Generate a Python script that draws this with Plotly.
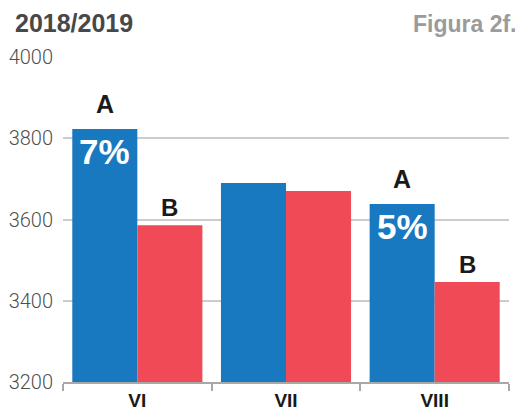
import plotly.graph_objects as go

categories = ["VI", "VII", "VIII"]
series_a = [3823, 3690, 3638]
series_b = [3586, 3670, 3446]
pct_labels = ["7%", "", "5%"]
a_labels = ["A", "", "A"]
b_labels = ["B", "", "B"]
y_ticks = [3200, 3400, 3600, 3800, 4000]

BLUE = "#1878c0"
RED = "#ef4a55"
FONT = "Liberation Sans, Arial, sans-serif"
LIGHT_FONT = "Roboto, Liberation Sans, Arial, sans-serif"

W, H = 520, 404
ML, MR, MT, MB = 55, 19, 49, 30
PW, PH = W - ML - MR, H - MT - MB

fig = go.Figure()
fig.add_trace(go.Bar(x=categories, y=series_a, marker_color=BLUE, marker_line_width=0, name="A"))
fig.add_trace(go.Bar(x=categories, y=series_b, marker_color=RED, marker_line_width=0, name="B"))

for i, c in enumerate(categories):
    if a_labels[i]:
        fig.add_annotation(x=c, y=series_a[i], xref="x", yref="y", text=a_labels[i],
                           showarrow=False, xshift=-32.5, yshift=9, yanchor="bottom",
                           font=dict(family=FONT, size=25, color="#1a1a1a", weight="bold"))
    if pct_labels[i]:
        fig.add_annotation(x=c, y=series_a[i], xref="x", yref="y", text=pct_labels[i],
                           showarrow=False, xshift=-32.5, yshift=-1, yanchor="top",
                           font=dict(family=FONT, size=35, color="white", weight="bold"))
    if b_labels[i]:
        fig.add_annotation(x=c, y=series_b[i], xref="x", yref="y", text=b_labels[i],
                           showarrow=False, xshift=32.5, yshift=2, yanchor="bottom",
                           font=dict(family=FONT, size=24, color="#1a1a1a", weight="bold"))

fig.add_annotation(x=(6 - ML) / PW, y=1 + (MT - 0.5) / PH, xref="paper", yref="paper",
                   text="2018/2019", showarrow=False, xanchor="left", yanchor="top",
                   borderpad=0,
                   font=dict(family=FONT, size=25, color="#484848", weight="bold"))
fig.add_annotation(x=1 + 9 / PW, y=1 + (MT - 16) / PH, xref="paper", yref="paper",
                   text="Figura 2f.", showarrow=False, xanchor="right", yanchor="middle",
                   borderpad=0,
                   font=dict(family=FONT, size=23, color="#9b9b9b", weight="bold"))

fig.update_layout(
    width=W, height=H,
    margin=dict(l=ML, r=MR, t=MT, b=MB, autoexpand=False),
    paper_bgcolor="white", plot_bgcolor="white",
    showlegend=False,
    barmode="group", bargap=0.125, bargroupgap=0,
    font=dict(family=FONT),
)

fig.update_xaxes(
    showline=True, linecolor="#a8a8a8", linewidth=1.5,
    ticks="outside", ticklen=7, tickcolor="#a8a8a8", tickwidth=1.5,
    tickson="boundaries", showgrid=False,
    ticklabelstandoff=0,
    tickfont=dict(family=FONT, size=19, color="#1a1a1a", weight="bold"),
)
fig.update_yaxes(
    range=[3200, 4000], tickvals=y_ticks,
    showgrid=True, gridcolor="#cccccc", gridwidth=1.5,
    showline=False, zeroline=False, ticks="",
    ticklabelstandoff=9,
    tickfont=dict(family=LIGHT_FONT, size=20, color="#505050", weight=300),
)

fig.write_html("out.html")
